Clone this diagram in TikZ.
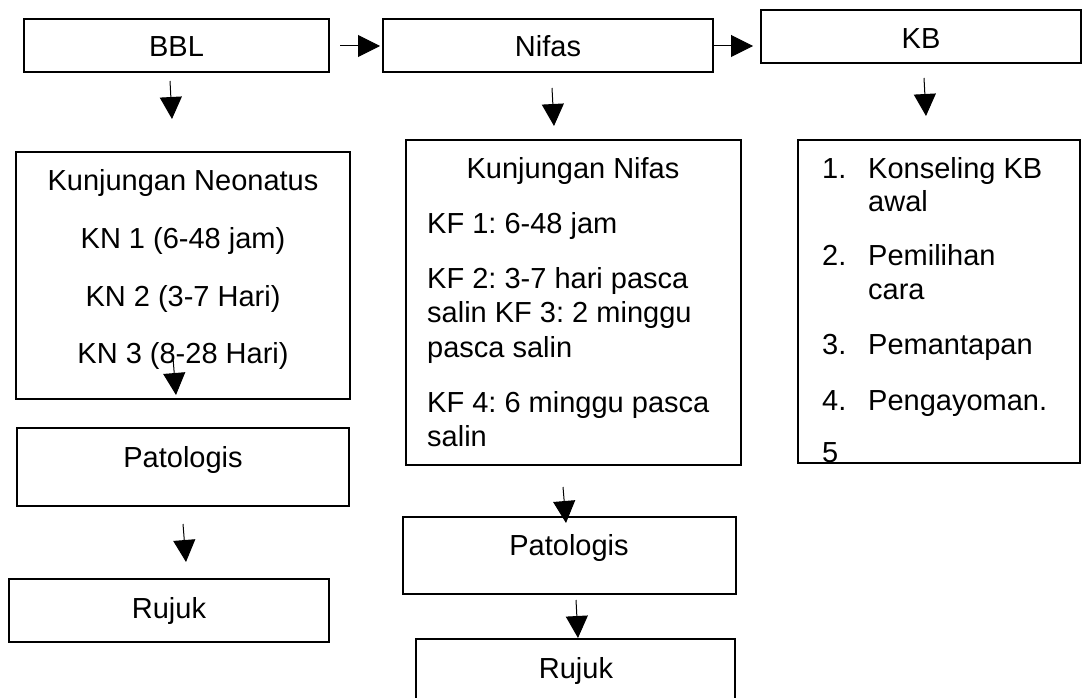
\documentclass[tikz,border=0pt]{standalone}
\usepackage{fontspec}
\setmainfont{Liberation Sans}
\usetikzlibrary{arrows.meta}
\frenchspacing
\begin{document}
\begin{tikzpicture}[x=1pt,y=-1pt,
  box/.style={draw, line width=1.8pt, inner sep=0pt, rectangle},
  txt/.style={font=\fontsize{29}{34}\selectfont, inner sep=0pt, anchor=base},
  ltxt/.style={txt, anchor=base west},
  arr/.style={line width=1pt, -{Triangle[length=22pt,width=22pt]}}]
\useasboundingbox (0,0) rectangle (1089,698);
% boxes
\node[box, minimum width=305pt, minimum height=53pt] (bbl) at (176.5,45.5) {};
\node[box, minimum width=330pt, minimum height=53pt] (nifas) at (548,45.5) {};
\node[box, minimum width=320pt, minimum height=53pt] (kb) at (921,36.5) {};
\node[box, minimum width=334pt, minimum height=247pt] (kn) at (183,275.5) {};
\node[box, minimum width=332pt, minimum height=78pt] (patl) at (183,467) {};
\node[box, minimum width=320pt, minimum height=63pt] (rujl) at (169,610.5) {};
\node[box, minimum width=335pt, minimum height=325pt] (knif) at (573.5,302.5) {};
\node[box, minimum width=333pt, minimum height=77pt] (patn) at (569.5,555.5) {};
\node[box, minimum width=319pt, minimum height=66pt] (rujn) at (575.5,672) {};
\node[box, minimum width=282pt, minimum height=323pt] (kbl) at (939,301.5) {};
% texts
\node[txt] (tbbl) at (176.5,57) {BBL};
\node[txt] (tnif) at (548,57) {Nifas};
\node[txt] (tkb) at (921,49) {KB};
\node[txt] (kn0) at (183,190) {Kunjungan Neonatus};
\node[txt] (kn1) at (183,248) {KN 1 (6-48 jam)};
\node[txt] (kn2) at (183,306) {KN 2 (3-7 Hari)};
\node[txt] (kn3) at (183,363) {KN 3 (8-28 Hari)};
\node[txt] (tpatl) at (183,467) {Patologis};
\node[txt] (trujl) at (169,618) {Rujuk};
\node[txt] (tpatn) at (569,555) {Patologis};
\node[txt] (trujn) at (576,678) {Rujuk};
\node[txt] (kf0) at (573,178) {Kunjungan Nifas};
\node[ltxt] (kf1) at (427,233) {KF 1: 6-48 jam};
\node[ltxt] (kf2a) at (427,288) {KF 2: 3-7 hari pasca};
\node[ltxt] (kf2b) at (427,322.5) {salin KF 3: 2 minggu};
\node[ltxt] (kf2c) at (427,357) {pasca salin};
\node[ltxt] (kf4a) at (427,412) {KF 4: 6 minggu pasca};
\node[ltxt] (kf4b) at (427,446) {salin};
\node[ltxt] (n1) at (822,178) {1.};
\node[ltxt] (i1a) at (868,178) {Konseling KB};
\node[ltxt] (i1b) at (868,211) {awal};
\node[ltxt] (n2) at (822,265) {2.};
\node[ltxt] (i2a) at (868,265) {Pemilihan};
\node[ltxt] (i2b) at (868,299) {cara};
\node[ltxt] (n3) at (822,354) {3.};
\node[ltxt] (i3) at (868,354) {Pemantapan};
\node[ltxt] (n4) at (822,410) {4.};
\node[ltxt] (i4) at (868,410) {Pengayoman.};
\begin{scope}
  \clip (798,140) rectangle (1080,461);
  \node[ltxt] (n5) at (822,462) {5};
\end{scope}
% arrow ends
\coordinate (a1s) at (340,46);  \coordinate (a1e) at (380,46);
\coordinate (a2s) at (713,46);  \coordinate (a2e) at (753,46);
\coordinate (d1s) at (170,81);  \coordinate (d1e) at (172,119);
\coordinate (d2s) at (552,88);  \coordinate (d2e) at (554,126);
\coordinate (d3s) at (924,78);  \coordinate (d3e) at (926,116);
\coordinate (d4s) at (173,358); \coordinate (d4e) at (176,395);
\coordinate (d5s) at (183,524); \coordinate (d5e) at (186,562);
\coordinate (d6s) at (563,487); \coordinate (d6e) at (566,523);
\coordinate (d7s) at (576,600); \coordinate (d7e) at (578,638);
\draw[arr] (a1s) -- (a1e);
\draw[arr] (a2s) -- (a2e);
\draw[arr] (d1s) -- (d1e);
\draw[arr] (d2s) -- (d2e);
\draw[arr] (d3s) -- (d3e);
\draw[arr] (d4s) -- (d4e);
\draw[arr] (d5s) -- (d5e);
\draw[arr] (d6s) -- (d6e);
\draw[arr] (d7s) -- (d7e);
\end{tikzpicture}
\end{document}
